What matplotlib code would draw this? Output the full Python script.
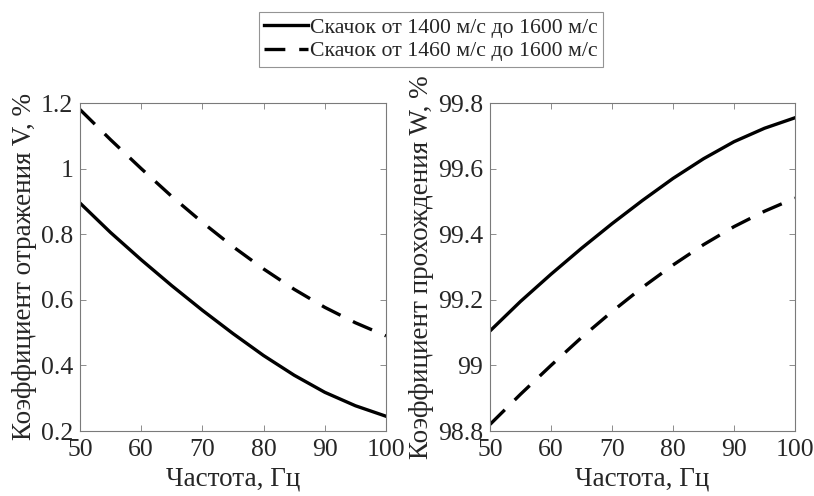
import numpy as np
import matplotlib
matplotlib.use("Agg")
import matplotlib.pyplot as plt

plt.rcParams['font.family'] = ['Liberation Serif', 'DejaVu Serif']

# frequency grid, Hz
freq = [50, 55, 60, 65, 70, 75, 80, 85, 90, 95, 100]

# reflection coefficient V, %
v_1400 = [0.895, 0.805, 0.722, 0.643, 0.568, 0.497, 0.430, 0.370, 0.318, 0.277, 0.245]
v_1460 = [1.180, 1.088, 1.000, 0.915, 0.836, 0.762, 0.694, 0.632, 0.577, 0.530, 0.490]

labels = ['Скачок от 1400 м/с до 1600 м/с', 'Скачок от 1460 м/с до 1600 м/с']

# transmission coefficient W = 100 - V, %
w_1400 = [100 - v for v in v_1400]
w_1460 = [100 - v for v in v_1460]

lw = 2.4
dash = (15 / lw, 10 / lw)
axis_color = '#7a7a7a'
text_color = '#262626'
tick_fs = 18.5
label_fs = 19.5

fig = plt.figure(figsize=(8.14, 4.96), dpi=100)
ax1 = fig.add_axes([80 / 814, 1 - 431 / 496, 306 / 814, 328 / 496])
ax2 = fig.add_axes([490 / 814, 1 - 431 / 496, 305 / 814, 328 / 496])

l1, = ax1.plot(freq, v_1400, color='k', lw=lw, label=labels[0])
l2, = ax1.plot(freq, v_1460, color='k', lw=lw, dashes=dash, label=labels[1])
ax2.plot(freq, w_1400, color='k', lw=lw)
ax2.plot(freq, w_1460, color='k', lw=lw, dashes=dash)

ax1.set_ylim(0.2, 1.2)
ax1.set_yticks([0.2, 0.4, 0.6, 0.8, 1.0, 1.2])
ax1.set_yticklabels(['0.2', '0.4', '0.6', '0.8', '1', '1.2'])
ax1.set_ylabel('Коэффициент отражения V, %', fontsize=label_fs, color=text_color, labelpad=3)

ax2.set_ylim(98.8, 99.8)
ax2.set_yticks([98.8, 99.0, 99.2, 99.4, 99.6, 99.8])
ax2.set_yticklabels(['98.8', '99', '99.2', '99.4', '99.6', '99.8'])
ax2.set_ylabel('Коэффициент прохождения W, %', fontsize=label_fs, color=text_color, labelpad=3)

for ax in (ax1, ax2):
    ax.set_xlim(50, 100)
    ax.set_xticks([50, 60, 70, 80, 90, 100])
    ax.set_xlabel('Частота, Гц', fontsize=label_fs, color=text_color, labelpad=4)
    ax.tick_params(direction='in', top=True, right=True, length=4, width=0.6,
                   color=axis_color, labelsize=tick_fs, labelcolor=text_color)
    ax.tick_params(axis='x', pad=6)
    ax.tick_params(axis='y', pad=5)
    for sp in ax.spines.values():
        sp.set_color(axis_color)
        sp.set_linewidth(0.8)

leg = fig.legend(handles=[l1, l2], loc='upper center', bbox_to_anchor=(0.5295, 0.976),
                 fontsize=15.7, frameon=True, fancybox=False, handlelength=2.0,
                 handletextpad=0.12, borderpad=0.25, labelspacing=0.15, borderaxespad=0)
leg.get_frame().set_edgecolor(axis_color)
leg.get_frame().set_linewidth(0.8)
for t in leg.get_texts():
    t.set_color(text_color)

fig.savefig('out.png', dpi=100)
